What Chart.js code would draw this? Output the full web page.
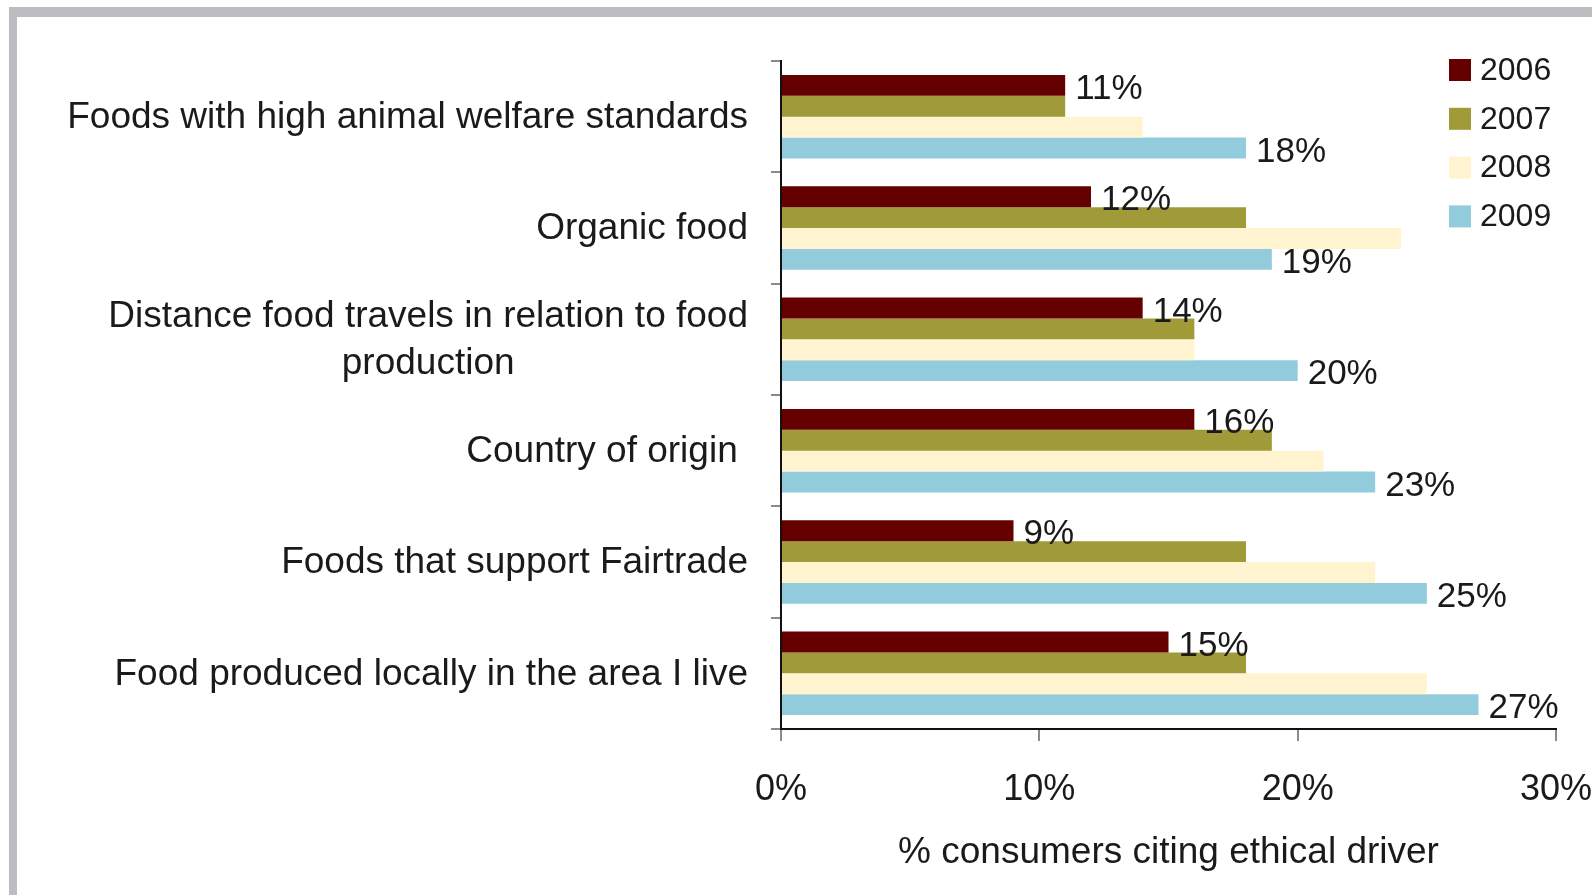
<!DOCTYPE html>
<html>
<head>
<meta charset="utf-8">
<script src="https://cdn.jsdelivr.net/npm/chart.js@4.4.0/dist/chart.umd.min.js"></script>
<style>
  html, body { margin: 0; padding: 0; background: #fff; }
  body { width: 1592px; height: 895px; position: relative; overflow: hidden; }
  #frame {
    position: absolute; left: 9px; top: 7px; width: 1700px; height: 1000px;
    border-top: 10px solid #bcbdc1; border-left: 8px solid #bcbdc1;
    background: #fff;
  }
  #chart { position: absolute; left: 0; top: 0; }
</style>
</head>
<body>
<div id="frame"></div>
<canvas id="chart" width="1592" height="895"></canvas>
<script>
// --- DATA ---
const categories = [
    ["Foods with high animal welfare standards"],
    ["Organic food"],
    ["Distance food travels in relation to food", "production"],
    ["Country of origin "],
    ["Foods that support Fairtrade"],
    ["Food produced locally in the area I live"]
];
const years = ["2006", "2007", "2008", "2009"];
const values2006 = [11, 12, 14, 16, 9, 15];
const values2007 = [11, 18, 16, 19, 18, 18];
const values2008 = [14, 24, 16, 21, 23, 25];
const values2009 = [18, 19, 20, 23, 25, 27];
const xTicks = [0, 10, 20, 30];
const axisTitle = "% consumers citing ethical driver";

const colors = ["#650000", "#a19a38", "#fff4cf", "#92cbdc"];
const labelledSeries = [0, 3]; // only 2006 and 2009 carry value labels

const FONT = "'Liberation Sans', Arial, sans-serif";
const TEXT = "#1a1a1a";

// --- PLUGINS ---
// category labels: right-aligned block, lines centred within the block
const categoryLabels = {
    id: "categoryLabels",
    afterDraw(chart) {
        const ctx = chart.ctx;
        const y = chart.scales.y;
        const right = 748;
        const lineH = 47;
        ctx.save();
        ctx.font = "37px " + FONT;
        ctx.fillStyle = TEXT;
        ctx.textBaseline = "middle";
        ctx.textAlign = "center";
        categories.forEach((lines, i) => {
            const w = Math.max(...lines.map(l => ctx.measureText(l).width));
            const cx = right - w / 2;
            const cy = y.getPixelForValue(i) + 1;
            const top = cy - (lines.length - 1) * lineH / 2;
            lines.forEach((l, k) => ctx.fillText(l, cx, top + k * lineH));
        });
        ctx.restore();
    }
};

// value labels at the end of the 2006 and 2009 bars
const valueLabels = {
    id: "valueLabels",
    afterDatasetsDraw(chart) {
        const ctx = chart.ctx;
        ctx.save();
        ctx.font = "35px " + FONT;
        ctx.fillStyle = TEXT;
        ctx.textBaseline = "middle";
        ctx.textAlign = "left";
        labelledSeries.forEach(di => {
            const meta = chart.getDatasetMeta(di);
            meta.data.forEach((bar, i) => {
                const v = chart.data.datasets[di].data[i];
                ctx.fillText(v + "%", bar.x + 10, bar.y + 4);
            });
        });
        ctx.restore();
    }
};

// legend in the top-right corner, overlapping the plot
const cornerLegend = {
    id: "cornerLegend",
    afterDraw(chart) {
        const ctx = chart.ctx;
        ctx.save();
        ctx.font = "32px " + FONT;
        ctx.textBaseline = "middle";
        ctx.textAlign = "left";
        chart.data.datasets.forEach((ds, i) => {
            const cy = 70 + i * 48.8;
            ctx.fillStyle = ds.backgroundColor;
            ctx.fillRect(1449, cy - 11, 22, 22);
            ctx.fillStyle = TEXT;
            ctx.fillText(ds.label, 1480, cy + 1);
        });
        ctx.restore();
    }
};

// --- CHART ---
const seriesData = [values2006, values2007, values2008, values2009];

new Chart(document.getElementById("chart"), {
    type: "bar",
    data: {
        labels: categories.map(c => c.join(" ")),
        datasets: years.map((yr, i) => ({
            label: yr,
            data: seriesData[i],
            backgroundColor: colors[i],
            borderWidth: 0,
            barPercentage: 1,
            categoryPercentage: 0.75
        }))
    },
    options: {
        indexAxis: "y",
        responsive: false,
        animation: false,
        layout: { padding: { left: 0, top: 61, right: 36, bottom: 0 } },
        plugins: {
            legend: { display: false },
            tooltip: { enabled: false }
        },
        scales: {
            x: {
                min: 0,
                max: 30,
                afterBuildTicks(scale) {
                    scale.ticks = xTicks.map(v => ({ value: v }));
                },
                afterFit(scale) {
                    scale.height = 895 - 729;
                    scale.paddingLeft = 0;
                    scale.paddingRight = 0;
                },
                ticks: {
                    callback: v => v + "%",
                    font: { family: FONT, size: 36 },
                    color: TEXT,
                    padding: 27,
                    maxRotation: 0
                },
                grid: {
                    drawOnChartArea: false,
                    drawTicks: true,
                    tickLength: 12,
                    color: "#8a8a8a",
                    lineWidth: 2
                },
                border: { color: "#111", width: 2 },
                title: {
                    display: true,
                    text: axisTitle,
                    font: { family: FONT, size: 37 },
                    color: TEXT,
                    padding: { top: 0, bottom: 20 }
                }
            },
            y: {
                afterFit(scale) { scale.width = 781; },
                ticks: { display: false },
                grid: {
                    offset: true,
                    drawOnChartArea: false,
                    drawTicks: true,
                    tickLength: 10,
                    color: "#8a8a8a",
                    lineWidth: 2
                },
                border: { color: "#111", width: 2 }
            }
        }
    },
    plugins: [categoryLabels, valueLabels, cornerLegend]
});
</script>
</body>
</html>
